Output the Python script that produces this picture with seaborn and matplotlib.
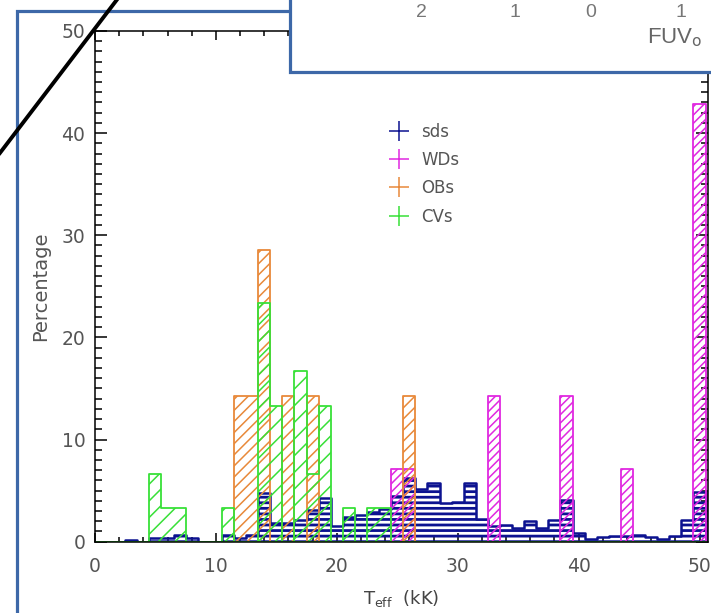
import numpy as np
import matplotlib
matplotlib.use("Agg")
import matplotlib.pyplot as plt
import seaborn as sns
from matplotlib.patches import Rectangle
from matplotlib.lines import Line2D
from matplotlib.ticker import MultipleLocator

# Percentage of each class per 1 kK bin of effective temperature (bin centres in kK)
sds_teff = [3, 5, 6, 7, 8, 11, 12, 13, 14, 15, 16, 17, 18, 19, 20, 21, 22, 23, 24,
            25, 26, 27, 28, 29, 30, 31, 32, 33, 34, 35, 36, 37, 38, 39, 40, 41, 42,
            43, 44, 45, 46, 47, 48, 49, 50]
sds_pct = [0.2, 0.4, 0.4, 0.66, 0.4, 0.66, 0.36, 0.66, 4.8, 1.8, 1.8, 2.1, 3.1, 4.3,
           1.5, 2.4, 2.6, 2.9, 3.2, 4.5, 6.2, 5.2, 5.7, 3.8, 3.9, 5.7, 2.2, 1.5, 1.6,
           1.3, 2.0, 1.3, 2.1, 4.1, 0.9, 0.25, 0.45, 0.6, 0.6, 0.66, 0.45, 0.25, 0.6,
           2.1, 4.9]

wds_teff = [25, 26, 33, 39, 44, 50]
wds_pct = [7.14, 7.14, 14.29, 14.29, 7.14, 42.86]

obs_teff = [12, 13, 14, 16, 18, 26]
obs_pct = [14.29, 14.29, 28.57, 14.29, 14.29, 14.29]

cvs_teff = [5, 6, 7, 11, 14, 15, 17, 18, 19, 21, 23, 24]
cvs_pct = [6.67, 3.33, 3.33, 3.33, 23.33, 13.33, 16.67, 6.67, 13.33, 3.33, 3.33, 3.33]

labels = ["sds", "WDs", "OBs", "CVs"]
colors = ["#0c1290", "#e028e0", "#e8893a", "#38e038"]
hatches = ["---", "////", "///", "//"]
hatch_lw = [2.0, 1.1, 1.1, 1.1]
edge_lw = [1.8, 1.3, 1.3, 1.3]

top_digits = ["2", "1", "0", "1"]

sns.set_theme(style="ticks")
plt.rcParams["font.family"] = ["DejaVu Sans"]

W, H = 711, 613
fig = plt.figure(figsize=(W / 100, H / 100), dpi=100)
fig.patch.set_facecolor("white")

# axes box in pixel terms: left 95, right 708, top 31, bottom 541.7
ax = fig.add_axes([95 / W, (H - 541.7) / H, (708 - 95) / W, (541.7 - 31) / H])

edges = [b - 0.5 for b in range(0, 53)]
series = [(sds_teff, sds_pct), (wds_teff, wds_pct), (obs_teff, obs_pct), (cvs_teff, cvs_pct)]
for (t, p), c, h, hlw, elw in zip(series, colors, hatches, hatch_lw, edge_lw):
    with plt.rc_context({"hatch.linewidth": hlw}):
        sns.histplot(x=t, weights=p, bins=edges, element="step", fill=True, color=c,
                     facecolor="none", edgecolor=c, hatch=h, linewidth=elw, ax=ax)

ax.set_xlim(0, 50.7)
ax.set_ylim(0, 50)
ax.xaxis.set_major_locator(MultipleLocator(10))
ax.xaxis.set_minor_locator(MultipleLocator(2))
ax.yaxis.set_major_locator(MultipleLocator(10))
ax.yaxis.set_minor_locator(MultipleLocator(1))
ax.tick_params(which="both", direction="in", top=True, right=True, color="black", width=1.1)
ax.tick_params(axis="x", which="major", length=6.5, pad=11, labelsize=13.5, labelcolor="#555555")
ax.tick_params(axis="x", which="minor", length=3.5)
ax.tick_params(axis="y", which="major", length=8.5, pad=7, labelsize=13.5, labelcolor="#555555")
ax.tick_params(axis="y", which="minor", length=5)
for s in ax.spines.values():
    s.set_color("black")
    s.set_linewidth(1.1)

ax.set_xlabel(r"T$_{\rm eff}$  (kK)", fontsize=13, color="#444444", labelpad=9)
ax.set_ylabel("Percentage", fontsize=14, color="#555555")
ax.yaxis.set_label_coords(-0.074, 0.5)

handles = [Line2D([], [], ls="none", marker="+", markersize=14, markeredgewidth=1.1, color=c)
           for c in colors]
ax.legend(handles, labels, loc="upper left", bbox_to_anchor=(0.4775, 0.8206), frameon=False,
          fontsize=12, labelcolor="#555555", handlelength=1.35, handletextpad=0.65,
          labelspacing=0.62, borderpad=0, borderaxespad=0)


def fx(x):
    return x / W


def fy(y):
    return (H - y) / H


frame_blue = "#3d68a8"
# outer slide frame
fig.add_artist(Rectangle((fx(16.5), fy(700)), fx(800), (700 - 10.5) / H, transform=fig.transFigure,
                         facecolor="none", edgecolor=frame_blue, linewidth=2.3, zorder=5))
# overlapping panel at the top right
fig.add_artist(Rectangle((fx(290), fy(72)), fx(600), 200 / H, transform=fig.transFigure,
                         facecolor="white", edgecolor=frame_blue, linewidth=2.3, zorder=6))
for d, xp in zip(top_digits, [421, 515, 591, 681]):
    fig.text(fx(xp), fy(17), d, ha="center", va="baseline", fontsize=14,
             family="Liberation Sans", color="#777777", zorder=7)
fig.text(fx(647), fy(43), r"FUV$_{\rm o}$", ha="left", va="baseline", fontsize=16,
         family="Liberation Sans", color="#666666", zorder=7)

# black diagonal connector
fig.add_artist(Line2D([fx(124.3), fx(-10)], [fy(-10), fy(166)], transform=fig.transFigure,
                      color="black", linewidth=2.8, zorder=8))

fig.savefig("out.png", dpi=100)
